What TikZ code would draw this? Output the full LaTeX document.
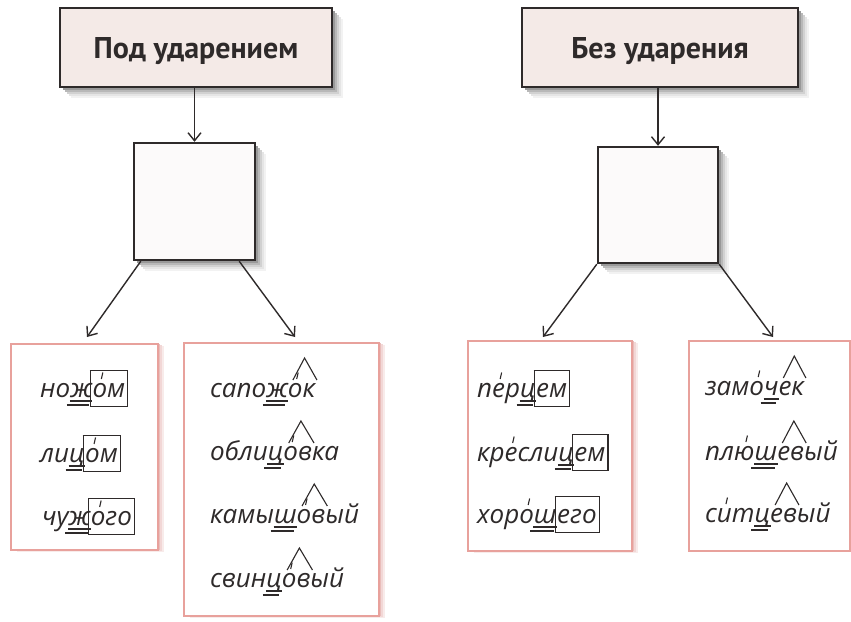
\documentclass[tikz,border=0pt]{standalone}
\usepackage{fontspec}
\usepackage{pict2e}
\usetikzlibrary{arrows.meta}
\newfontfamily\wordfont{Open Sans}
\newfontfamily\headfont{PT Sans}
\definecolor{ink}{HTML}{2E2A2A}
\definecolor{headfill}{HTML}{F4EAE7}
\definecolor{sqfill}{HTML}{FCFAFA}
\definecolor{pinkline}{HTML}{E8A19C}
\definecolor{pinkshadow}{HTML}{E9BDBA}
\makeatletter
% stress mark over a letter
\newcommand\Str[1]{\leavevmode\setbox0\hbox{#1}\edef\sw{\strip@pt\wd0}%
  \edef\xa{\fpeval{0.5*\sw+1.5}}\edef\xb{\fpeval{0.5*\sw+3}}%
  \rlap{\unitlength=1pt\linethickness{1.1pt}\begin{picture}(0,0)\Line(\xa,18)(\xb,24.5)\end{picture}}#1}
% double underline
\newcommand\Dbl[1]{\leavevmode\setbox0\hbox{#1}%
  \rlap{\kern-0.5pt\rule[-4.5pt]{\dimexpr\wd0+1pt}{1.1pt}}\rlap{\kern-3.5pt\rule[-8.5pt]{\dimexpr\wd0+1pt}{1.1pt}}#1}
% ending box
\newcommand\Ebox[1]{{\fboxsep=0pt\fboxrule=1.1pt\kern-2pt\fbox{\rule[-9pt]{0pt}{35pt}\kern1.5pt#1\kern2pt}}}
% suffix caret
\newcommand\Suf[1]{\leavevmode\setbox0\hbox{#1}\edef\sw{\strip@pt\wd0}%
  \edef\xa{\fpeval{0.15*\sw+1}}\edef\xb{\fpeval{0.56*\sw+1.5}}\edef\xc{\fpeval{\sw+2}}%
  \rlap{\unitlength=1pt\linethickness{1.1pt}\begin{picture}(0,0)\polyline(\xa,17)(\xb,39)(\xc,17)\end{picture}}#1}
\makeatother
\begin{document}
\begin{tikzpicture}[x=1pt,y=-1pt,
  head/.style={draw=ink, line width=1.7pt, fill=headfill, inner sep=0pt,
    font=\headfont\bfseries\fontsize{30}{34}\selectfont, text=ink, text depth=0pt},
  sq/.style={draw=ink, line width=2.4pt, fill=sqfill, inner sep=0pt},
  wbox/.style={draw=pinkline, line width=1.5pt, fill=white, inner sep=0pt, anchor=north west},
  word/.style={anchor=base west, inner sep=0pt, text=ink,
    font=\wordfont\itshape\fontsize{26}{30}\selectfont},
  arr/.style={draw=ink, line width=1.4pt, -{Straight Barb[length=8pt,width=13pt]}}]
\useasboundingbox (0,0) rectangle (851,621);
\fill[white] (0,0) rectangle (851,621);

% soft shadows (drawn first, behind the shapes), solid layers light to dark
\foreach \sh/\shc in {11/5,9/10,7/18,5/28,3/40}{
  \fill[black!\shc] (60+\sh,8+\sh) rectangle (332+\sh,87+\sh);
  \fill[black!\shc] (522+\sh,8+\sh) rectangle (798+\sh,87+\sh);
  \fill[black!\shc] (134+\sh,143+\sh) rectangle (255+\sh,260+\sh);
  \fill[black!\shc] (598+\sh,147+\sh) rectangle (718+\sh,263+\sh);
}
\foreach \sh/\shc in {7/30,5/60,3/100}{
  \fill[pinkshadow!\shc] (10+\sh,343+0.4*\sh) rectangle (157+\sh,549+0.4*\sh);
  \fill[pinkshadow!\shc] (183+\sh,342+0.4*\sh) rectangle (378+\sh,615+0.4*\sh);
  \fill[pinkshadow!\shc] (467+\sh,340+0.4*\sh) rectangle (631+\sh,550+0.4*\sh);
}

% headings
\node[head, minimum width=272pt, minimum height=79pt] (h1) at (196,47.5) {Под ударением};
\node[head, minimum width=276pt, minimum height=79pt] (h2) at (660,47.5) {Без ударения};

% empty squares
\node[sq, minimum width=121pt, minimum height=117pt] (s1) at (194.5,201.5) {};
\node[sq, minimum width=120pt, minimum height=116pt] (s2) at (658,205) {};

% word boxes
\node[wbox, minimum width=147pt, minimum height=206pt] (bA) at (10,343) {};
\node[wbox, minimum width=195pt, minimum height=273pt] (bB) at (183,342) {};
\node[wbox, minimum width=164pt, minimum height=210pt] (bC) at (467,340) {};
\node[wbox, minimum width=161pt, minimum height=210pt] (bD) at (688,340) {};

% arrows
\draw[arr] (s1.north |- h1.south) -- (s1.north);
\draw[arr] (s2.north |- h2.south) -- (s2.north);
\coordinate (tA) at (87,337);
\coordinate (tB) at (295,337);
\coordinate (tC) at (543,337);
\coordinate (tD) at (773,337);
\draw[arr] ([xshift=8pt]s1.south west) -- (tA);
\draw[arr] ([xshift=-17pt]s1.south east) -- (tB);
\draw[arr] (s2.south west) -- (tC);
\draw[arr] (s2.south east) -- (tD);

% words: under stress
\node[word] (a1) at (40,397) {но\Dbl{ж}\Ebox{\Str{о}м}};
\node[word] (a2) at (40,462) {ли\Dbl{ц}\Ebox{\Str{о}м}};
\node[word] (a3) at (42,525) {чу\Dbl{ж}\Ebox{\Str{о}го}};
\node[word] (b1) at (210,397) {сапо\Dbl{ж}\Suf{\Str{о}к}};
\node[word] (b2) at (210,460) {обли\Dbl{ц}\Suf{\Str{о}в}ка};
\node[word] (b3) at (210,523) {камы\Dbl{ш}\Suf{\Str{о}в}ый};
\node[word] (b4) at (210,587) {свин\Dbl{ц}\Suf{\Str{о}в}ый};
% words: without stress
\node[word] (c1) at (477,397) {п\Str{е}р\Dbl{ц}\Ebox{ем}};
\node[word] (c2) at (477,461) {кр\Str{е}сли\Dbl{ц}\Ebox{ем}};
\node[word] (c3) at (477,523) {хор\Str{о}\Dbl{ш}\Ebox{его}};
\node[word] (d1) at (705,395) {зам\Str{о}\Dbl{ч}\Suf{ек}};
\node[word] (d2) at (705,460) {пл\Str{ю}\Dbl{ш}\Suf{ев}ый};
\node[word] (d3) at (705,522) {с\Str{и}т\Dbl{ц}\Suf{ев}ый};
\end{tikzpicture}
\end{document}
